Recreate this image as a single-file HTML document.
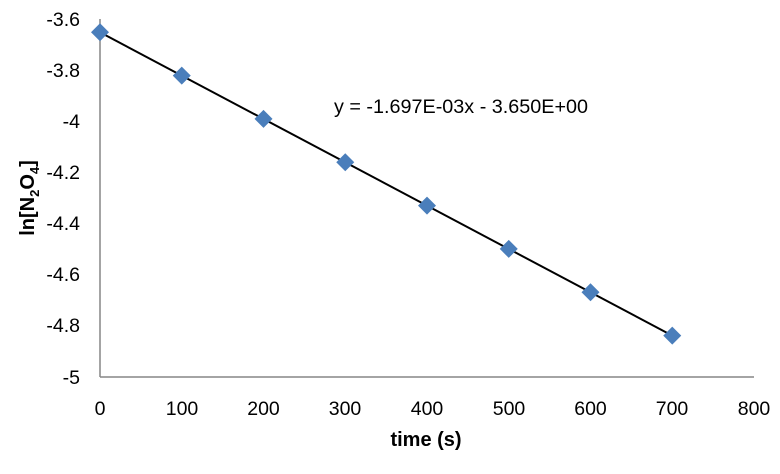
<!DOCTYPE html>
<html><head><meta charset="utf-8"><style>
html,body{margin:0;padding:0;background:#fff;}
svg text{font-family:"Liberation Sans",sans-serif;fill:#000;}
</style></head><body>
<svg width="780" height="469" viewBox="0 0 780 469" xmlns="http://www.w3.org/2000/svg">
<line x1="100" y1="19" x2="100" y2="377" stroke="#868686" stroke-width="1.5"/>
<line x1="100" y1="377" x2="754" y2="377" stroke="#868686" stroke-width="1.5"/>
<g font-size="19.5" text-anchor="end">
<text x="80" y="26">-3.6</text>
<text x="80" y="77">-3.8</text>
<text x="80" y="128">-4</text>
<text x="80" y="179">-4.2</text>
<text x="80" y="230">-4.4</text>
<text x="80" y="281">-4.6</text>
<text x="80" y="332">-4.8</text>
<text x="80" y="384">-5</text>
</g>
<g font-size="19.5" text-anchor="middle">
<text x="100" y="415">0</text>
<text x="182" y="415">100</text>
<text x="263.5" y="415">200</text>
<text x="345" y="415">300</text>
<text x="427" y="415">400</text>
<text x="509" y="415">500</text>
<text x="590.5" y="415">600</text>
<text x="672" y="415">700</text>
<text x="754" y="415">800</text>
</g>
<text x="426" y="446" font-size="20" font-weight="bold" text-anchor="middle">time (s)</text>
<text transform="translate(34,198) rotate(-90)" font-size="20" font-weight="bold" text-anchor="middle">ln[N<tspan font-size="13" dy="5">2</tspan><tspan dy="-5">O</tspan><tspan font-size="13" dy="5">4</tspan><tspan dy="-5">]</tspan></text>
<text x="334" y="113" font-size="19.8">y = -1.697E-03x - 3.650E+00</text>
<line x1="100" y1="32.3" x2="672.25" y2="335.6" stroke="#000" stroke-width="2"/>
<g fill="#4a7ebb">
<path d="M100 23.3 l9 9 l-9 9 l-9 -9z"/>
<path d="M181.75 66.6 l9 9 l-9 9 l-9 -9z"/>
<path d="M263.5 109.9 l9 9 l-9 9 l-9 -9z"/>
<path d="M345.25 153.3 l9 9 l-9 9 l-9 -9z"/>
<path d="M427 196.6 l9 9 l-9 9 l-9 -9z"/>
<path d="M508.75 239.9 l9 9 l-9 9 l-9 -9z"/>
<path d="M590.5 283.3 l9 9 l-9 9 l-9 -9z"/>
<path d="M672.25 326.6 l9 9 l-9 9 l-9 -9z"/>
</g>
</svg>
</body></html>
